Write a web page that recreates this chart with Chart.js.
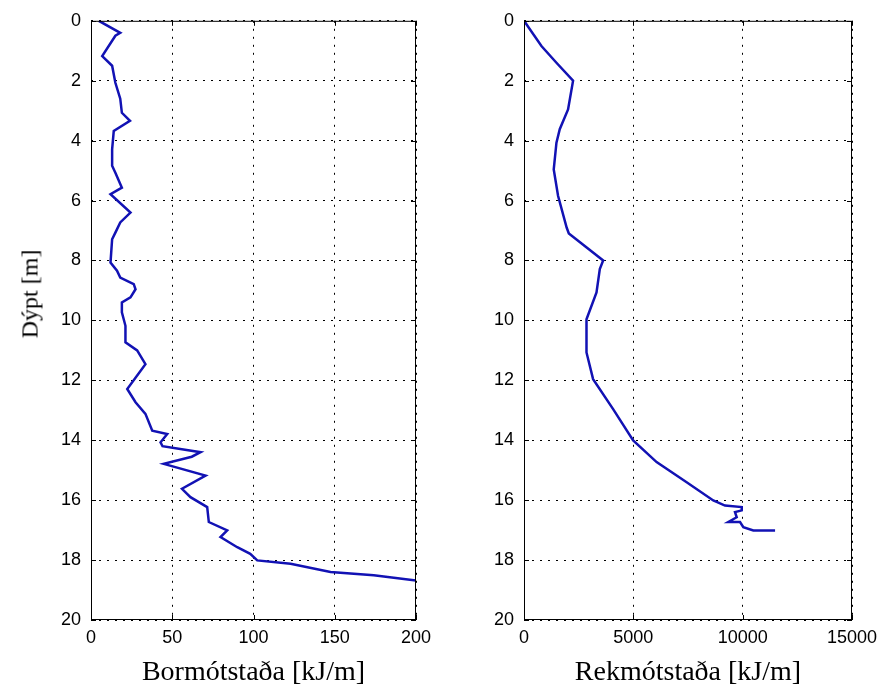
<!DOCTYPE html>
<html>
<head>
<meta charset="utf-8">
<title>Bormótstaða / Rekmótstaða</title>
<script src="https://cdn.jsdelivr.net/npm/chart.js@4.4.1/dist/chart.umd.min.js"></script>
<style>
    html, body { margin: 0; padding: 0; background: #fff; }
    body { width: 894px; height: 689px; position: relative; overflow: hidden; }
    .panel { position: absolute; top: 0; }
    #ylab {
        position: absolute; left: 30px; top: 294px;
        transform: translate(-50%, -50%) rotate(-90deg);
        font: 24px "Liberation Serif", "DejaVu Serif", serif; color: #000;
        white-space: nowrap;
    }
</style>
</head>
<body>
<div class="panel" style="left:0"><canvas id="borChart" width="450" height="689"></canvas></div>
<div class="panel" style="left:450px"><canvas id="rekChart" width="444" height="689"></canvas></div>
<div id="ylab">Dýpt [m]</div>

<script>
'use strict';

/* ── data: depth [m] vs resistance [kJ/m] ── */
const depthBor = [0, 0.4, 0.5, 1.18, 1.5, 2.07, 2.6, 3.07, 3.34, 3.68, 4.29, 4.84, 5.07, 5.57, 5.79,
    6.4, 6.73, 7.07, 7.29, 8.07, 8.34, 8.57, 8.79, 8.96, 9.23, 9.4, 9.73, 10.18, 10.73, 11.0, 11.46,
    12.29, 12.73, 13.12, 13.68, 13.79, 14.07, 14.2, 14.4, 14.55, 14.79, 15.18, 15.62, 15.9, 16.23,
    16.73, 17.01, 17.23, 17.57, 17.79, 18.01, 18.12, 18.4, 18.51, 18.68];
const bor = [4.8, 18, 15, 6.9, 13, 15, 18, 19, 24, 14, 13, 13, 15, 19, 12,
    24.3, 18, 15, 13, 12, 16, 18, 26.3, 27.4, 24.3, 19, 19, 21.2, 21.2, 28.4, 33.5,
    22.3, 27.4, 33.5, 37.7, 46.9, 42.8, 44, 67.4, 62, 44.8, 70.5, 56, 61.2, 71.5,
    72.5, 83.8, 79.7, 90, 98, 102.3, 122.8, 147.4, 174, 200];

const depthRek = [0, 0.84, 1.4, 2.0, 2.96, 3.62, 4.07, 4.96, 5.84, 6.9, 7.1, 8.0, 8.29, 9.07, 9.96,
    11.07, 11.96, 12.96, 14.01, 14.73, 15.4, 16.01, 16.18, 16.23, 16.34, 16.4, 16.57, 16.73, 16.73,
    16.9, 17.01, 17.01];
const rek = [0, 797, 1484, 2244, 2015, 1635, 1484, 1360, 1557, 1950, 2050, 3620, 3467, 3316, 2858,
    2858, 3160, 4076, 4992, 6064, 7438, 8656, 9192, 9957, 9957, 9650, 9727, 9343, 9880,
    10030, 10488, 11482];

const depthTicks = [0, 2, 4, 6, 8, 10, 12, 14, 16, 18, 20];
const borTicks = [0, 50, 100, 150, 200];
const rekTicks = [0, 5000, 10000, 15000];

const LINE_BLUE = '#1212b4';
const TICK_FONT = { family: '"Liberation Sans", Arial, sans-serif', size: 18 };
const LABEL_FONT = { family: '"Liberation Serif", "DejaVu Serif", serif', size: 28 };

/* ── MATLAB style frame: solid box + inward ticks on all four sides ── */
const matlabFrame = {
    id: 'matlabFrame',
    afterDraw(chart) {
        const { ctx, chartArea: a, scales } = chart;
        const len = 5;
        ctx.save();
        ctx.strokeStyle = '#000';
        ctx.lineWidth = 1;
        ctx.strokeRect(a.left + 0.5, a.top + 0.5, a.right - a.left - 1, a.bottom - a.top - 1);
        ctx.beginPath();
        scales.x.ticks.forEach(t => {
            const px = Math.round(scales.x.getPixelForValue(t.value)) + 0.5;
            ctx.moveTo(px, a.top); ctx.lineTo(px, a.top + len);
            ctx.moveTo(px, a.bottom); ctx.lineTo(px, a.bottom - len);
        });
        scales.y.ticks.forEach(t => {
            const py = Math.round(scales.y.getPixelForValue(t.value)) + 0.5;
            ctx.moveTo(a.left, py); ctx.lineTo(a.left + len, py);
            ctx.moveTo(a.right, py); ctx.lineTo(a.right - len, py);
        });
        ctx.stroke();
        ctx.restore();
    },
};

function depthPanel(canvasId, xs, ys, xTicks, xTitle, yWidth, padRight) {
    const pts = xs.map((v, i) => ({ x: v, y: ys[i] }));
    const gridStyle = { color: '#000', lineWidth: 1, drawTicks: false };
    const borderStyle = { display: false, dash: [2, 6] };
    return new Chart(document.getElementById(canvasId), {
        type: 'scatter',
        data: {
            datasets: [{
                data: pts,
                showLine: true,
                borderColor: LINE_BLUE,
                borderWidth: 2.5,
                pointRadius: 0,
                tension: 0,
            }],
        },
        options: {
            responsive: false,
            animation: false,
            layout: { padding: { left: 0, top: 18, right: padRight, bottom: 0 } },
            plugins: { legend: { display: false }, tooltip: { enabled: false } },
            scales: {
                x: {
                    type: 'linear',
                    min: xTicks[0],
                    max: xTicks[xTicks.length - 1],
                    afterBuildTicks: s => { s.ticks = xTicks.map(v => ({ value: v })); },
                    afterFit: s => { s.height = 69; },
                    grid: gridStyle,
                    border: borderStyle,
                    ticks: { color: '#000', font: TICK_FONT, padding: 7, maxRotation: 0, autoSkip: false, callback: v => String(v) },
                    title: { display: true, text: xTitle, color: '#000', font: LABEL_FONT, padding: { top: 0, bottom: 0 } },
                },
                y: {
                    type: 'linear',
                    reverse: true,
                    min: 0,
                    max: 20,
                    afterBuildTicks: s => { s.ticks = depthTicks.map(v => ({ value: v })); },
                    afterFit: s => { s.width = yWidth; },
                    grid: gridStyle,
                    border: borderStyle,
                    ticks: { color: '#000', font: TICK_FONT, padding: 10, autoSkip: false, callback: v => String(v) },
                },
            },
        },
        plugins: [matlabFrame],
    });
}

depthPanel('borChart', bor, depthBor, borTicks, 'Bormótstaða [kJ/m]', 91, 34);
depthPanel('rekChart', rek, depthRek, rekTicks, 'Rekmótstaða [kJ/m]', 74, 42);
</script>
</body>
</html>
